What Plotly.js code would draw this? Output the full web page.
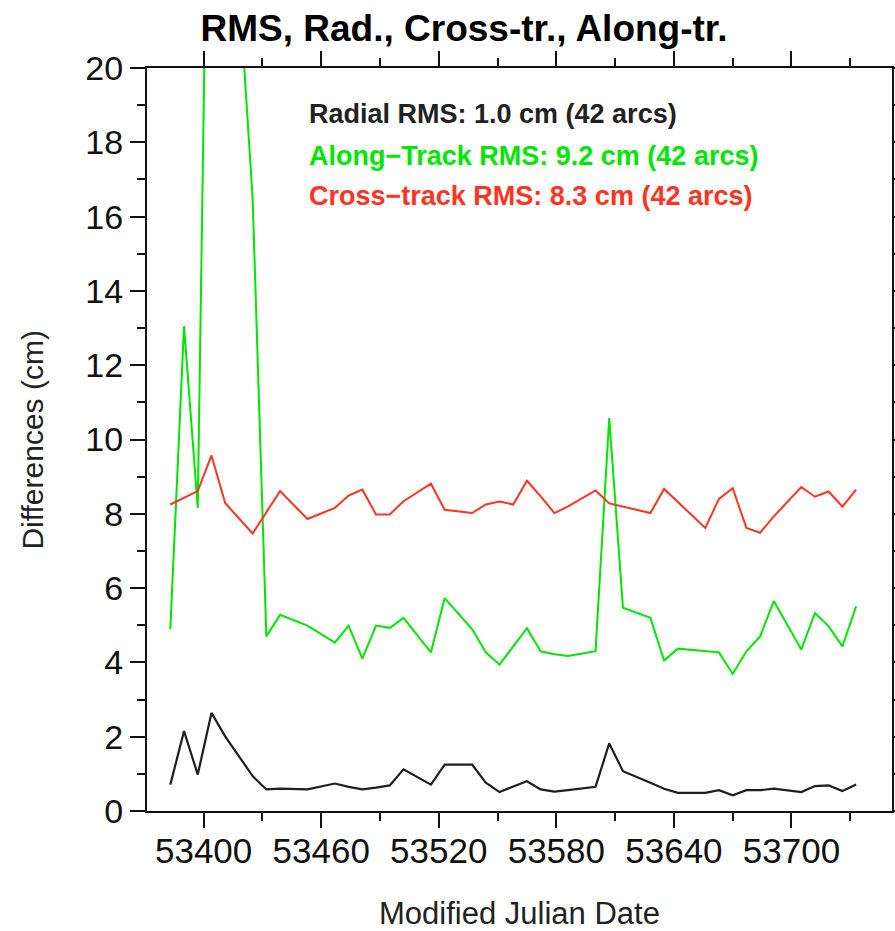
<!DOCTYPE html>
<html>
<head>
<meta charset="utf-8">
<script src="https://cdn.plot.ly/plotly-3.0.1.min.js"></script>
<style>
html,body{margin:0;padding:0;background:#fff;}
#chart{width:895px;height:931px;}
</style>
</head>
<body>
<div id="chart"></div>
<script>
// Arc epochs (Modified Julian Date), weekly arcs, 42 arcs
const mjd = [53383,53390,53397,53404,53411,53425,53432,53439,53453,53467,53474,53481,53488,53495,53502,53516,53523,53537,53544,53551,53558,53565,53572,53579,53586,53600,53607,53614,53628,53635,53642,53656,53663,53670,53677,53684,53691,53705,53712,53719,53726,53733];

// Radial differences (cm)
const radial = [0.71,2.15,0.98,2.64,2.01,0.94,0.58,0.60,0.58,0.74,0.65,0.58,0.63,0.69,1.12,0.71,1.25,1.25,0.76,0.51,0.66,0.80,0.58,0.52,0.56,0.65,1.82,1.07,0.76,0.60,0.49,0.49,0.56,0.42,0.56,0.56,0.60,0.51,0.67,0.69,0.54,0.71];

// Along-track differences (cm)
const along = [4.90,13.05,8.16,33.0,28.0,16.5,4.70,5.28,4.99,4.53,4.99,4.10,4.99,4.93,5.20,4.27,5.73,4.90,4.27,3.94,4.43,4.92,4.30,4.22,4.17,4.30,10.58,5.47,5.20,4.05,4.37,4.29,4.27,3.69,4.30,4.70,5.65,4.35,5.33,4.97,4.43,5.51];

// Cross-track differences (cm)
const cross = [8.25,8.44,8.61,9.57,8.29,7.47,8.03,8.61,7.86,8.16,8.49,8.65,7.98,7.98,8.34,8.81,8.11,8.02,8.25,8.33,8.25,8.89,8.47,8.02,8.20,8.63,8.28,8.19,8.02,8.67,8.32,7.62,8.40,8.69,7.62,7.49,7.93,8.72,8.46,8.60,8.19,8.65];

const xTickVals = [53400,53460,53520,53580,53640,53700];
const xTickText = ['53400','53460','53520','53580','53640','53700'];
const yTickVals = [0,2,4,6,8,10,12,14,16,18,20];
const yTickText = ['0','2','4','6','8','10','12','14','16','18','20'];

const labels = [
  'Radial RMS: 1.0 cm (42 arcs)',
  'Along\u2212Track RMS: 9.2 cm (42 arcs)',
  'Cross\u2212track RMS: 8.3 cm (42 arcs)'
];
const yTitle = 'Differences (cm)';

const cBlack = '#1e1e1e', cGreen = '#00e600', cRed = '#ff3322';

const traces = [
  {x: mjd, y: radial, mode: 'lines', line: {color: cBlack, width: 2.2}, name: 'Radial'},
  {x: mjd, y: along, mode: 'lines', line: {color: cGreen, width: 2}, name: 'Along-Track'},
  {x: mjd, y: cross, mode: 'lines', line: {color: cRed, width: 2}, name: 'Cross-track'}
];

const sans = '"Liberation Sans", Arial, Helvetica, sans-serif';

const layout = {
  width: 895, height: 931,
  margin: {l: 147, r: 3, t: 68, b: 120, pad: 0},
  paper_bgcolor: '#fff', plot_bgcolor: '#fff',
  showlegend: false,
  title: {
    text: '<b>RMS, Rad., Cross-tr., Along-tr.</b>',
    font: {family: sans, size: 37, color: '#000'},
    x: 464/895, xref: 'container', xanchor: 'center',
    y: 1 - 28/931, yref: 'container', yanchor: 'middle'
  },
  xaxis: {
    range: [53371.1, 53751.3],
    tickmode: 'array', tickvals: xTickVals, ticktext: xTickText,
    tickangle: 0,
    ticks: 'outside', ticklen: 15, tickwidth: 2, tickcolor: '#111',
    minor: {tickmode: 'linear', tick0: 53370, dtick: 30, ticks: 'outside', ticklen: 8, tickwidth: 2, tickcolor: '#111', showgrid: false},
    showline: true, linecolor: '#111', linewidth: 2, mirror: 'allticks',
    showgrid: false, zeroline: false,
    tickfont: {family: sans, size: 35, color: '#111'},
    ticklabelstandoff: -7,
    title: {text: 'Modified Julian Date', font: {family: sans, size: 31, color: '#222'}, standoff: 34}
  },
  yaxis: {
    range: [0, 20],
    tickmode: 'array', tickvals: yTickVals, ticktext: yTickText,
    ticks: 'outside', ticklen: 15, tickwidth: 2, tickcolor: '#111',
    minor: {tickmode: 'linear', tick0: 0, dtick: 1, ticks: 'outside', ticklen: 8, tickwidth: 2, tickcolor: '#111', showgrid: false},
    showline: true, linecolor: '#111', linewidth: 2, mirror: 'allticks',
    showgrid: false, zeroline: false,
    tickfont: {family: sans, size: 34, color: '#111'}
  },
  annotations: [
    {text: yTitle, x: (32 - 147) / 745.6, y: 0.5, xref: 'paper', yref: 'paper', xanchor: 'center', yanchor: 'middle', textangle: -90, showarrow: false, font: {family: sans, size: 30, color: '#222'}},
    {text: '<b>' + labels[0] + '</b>', x: 0.2146, y: 0.938, xref: 'paper', yref: 'paper', xanchor: 'left', yanchor: 'middle', showarrow: false, font: {family: sans, size: 27, color: '#222'}},
    {text: '<b>' + labels[1] + '</b>', x: 0.2146, y: 0.881, xref: 'paper', yref: 'paper', xanchor: 'left', yanchor: 'middle', showarrow: false, font: {family: sans, size: 27, color: cGreen}},
    {text: '<b>' + labels[2] + '</b>', x: 0.2146, y: 0.828, xref: 'paper', yref: 'paper', xanchor: 'left', yanchor: 'middle', showarrow: false, font: {family: sans, size: 27, color: cRed}}
  ]
};

Plotly.newPlot('chart', traces, layout, {displayModeBar: false, staticPlot: true});
</script>
</body>
</html>
